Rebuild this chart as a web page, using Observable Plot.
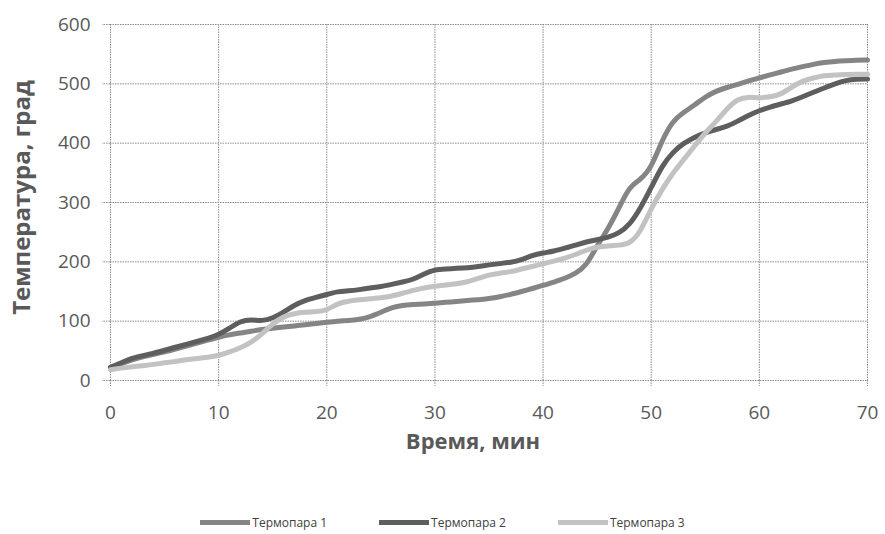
<!DOCTYPE html>
<html>
<head>
<meta charset="utf-8">
<script src="https://cdn.jsdelivr.net/npm/d3@7"></script>
<script src="https://cdn.jsdelivr.net/npm/@observablehq/plot@0.6"></script>
<style>
  html, body { margin: 0; padding: 0; background: #fff; }
  #chart { width: 885px; }
  .legend { display: flex; justify-content: center; align-items: center; height: 24px;
    font-family: "Open Sans", Lato, sans-serif; font-size: 12px; color: #404040; }
  .legend .item { display: flex; align-items: center; margin: 0 26px; }
  .legend .sw { width: 50px; height: 5px; margin-right: 2px; }
</style>
</head>
<body>
<div id="chart"></div>
<script>
// time, minutes
const times = d3.range(0, 71);
const seriesNames = ["Термопара 1", "Термопара 2", "Термопара 3"];
const seriesColors = ["#858585", "#5e5e5e", "#c2c2c2"];
const tp1 = [22,28,35,40,44,48,53,58,63,68,73,77,80,83,86,88,90,92,94,96,
             98,100,101,103,107,115,123,127,128,129,130,132,133,135,136,138,141,145,150,155,
             160,166,172,180,193,228,255,290,328,338,358,405,438,452,464,478,488,494,499,505,
             510,515,520,525,529,533,536,538,539,540,540];
const tp2 = [22,30,38,42,46,51,56,61,66,71,77,88,100,103,100,105,115,127,135,140,
             145,150,151,153,156,158,162,166,170,180,187,188,189,190,192,195,197,199,203,211,
             215,218,223,228,234,237,241,248,262,290,325,362,385,400,410,418,423,428,437,447,
             455,461,466,471,478,486,493,500,506,508,508];
const tp3 = [18,21,23,25,27,30,32,35,37,39,42,48,55,64,78,96,108,113,115,116,
             118,130,134,136,138,139,142,147,152,156,159,161,163,166,172,178,181,183,188,192,
             197,201,206,212,220,225,227,228,230,250,290,322,350,372,395,418,436,458,475,478,
             476,478,482,495,505,510,514,515,516,516,516];
const xTicks = [0, 10, 20, 30, 40, 50, 60, 70];
const yTicks = [0, 100, 200, 300, 400, 500, 600];
const xLabel = "Время, мин";
const yLabel = "Температура, град";

const allSeries = [tp1, tp2, tp3];
const data = [];
allSeries.forEach((vals, s) => {
  vals.forEach((v, i) => data.push({series: seriesNames[s], t: times[i], v}));
});

const font = "'Open Sans', Lato, sans-serif";
const gridStyle = {stroke: "#8c8c8c", strokeOpacity: 1, strokeWidth: 1, strokeDasharray: "1.5,1"};

const chart = Plot.plot({
  width: 885,
  height: 510,
  marginLeft: 110,
  marginRight: 18,
  marginTop: 24,
  marginBottom: 130,
  style: {fontFamily: font, background: "#fff", overflow: "visible"},
  x: {domain: [0, 70], ticks: xTicks},
  y: {domain: [0, 600], ticks: yTicks},
  color: {domain: seriesNames, range: seriesColors},
  marks: [
    Plot.gridX(xTicks, gridStyle),
    Plot.gridY(yTicks, gridStyle),
    Plot.axisX(xTicks, {tickSize: 6, tickPadding: 19, fontSize: 19, fill: "#595959", stroke: "#8c8c8c", strokeDasharray: "1.5,1", label: null}),
    Plot.axisY(yTicks, {tickSize: 8, tickPadding: 12, fontSize: 19, fill: "#595959", stroke: "#8c8c8c", strokeDasharray: "1.5,1", label: null}),
    Plot.line(data, {x: "t", y: "v", z: "series", stroke: "series", strokeWidth: 5, curve: "basis"}),
    Plot.text([xLabel], {frameAnchor: "bottom", text: d => d, dy: 68, dx: -16, fontSize: 22, fontWeight: "bold", fill: "#595959"}),
    Plot.text([yLabel], {frameAnchor: "left", textAnchor: "middle", text: d => d, rotate: -90, dx: -88, dy: -5, fontSize: 24, fontWeight: "bold", fill: "#595959"})
  ]
});
document.getElementById("chart").appendChild(chart);

const legend = document.createElement("div");
legend.className = "legend";
seriesNames.forEach((name, i) => {
  const item = document.createElement("div");
  item.className = "item";
  const sw = document.createElement("span");
  sw.className = "sw";
  sw.style.background = seriesColors[i];
  const tx = document.createElement("span");
  tx.textContent = name;
  item.appendChild(sw);
  item.appendChild(tx);
  legend.appendChild(item);
});
document.getElementById("chart").appendChild(legend);
</script>
</body>
</html>
